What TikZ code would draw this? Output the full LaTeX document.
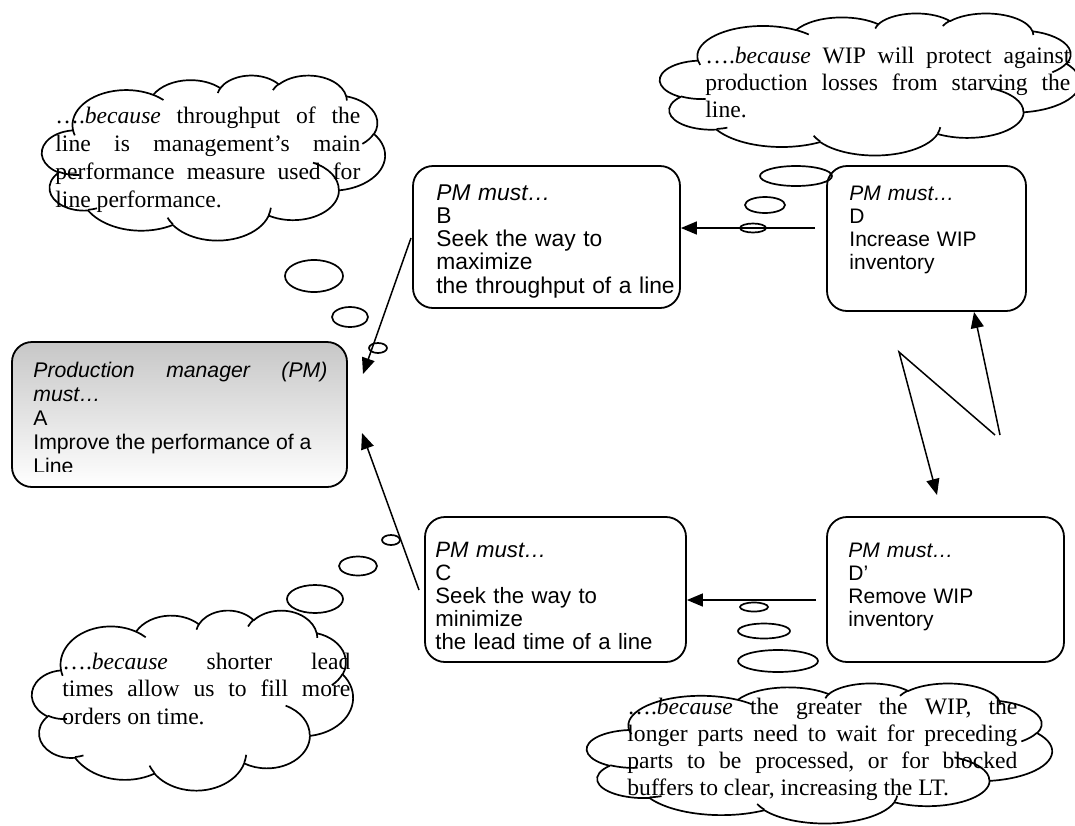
\documentclass[tikz,border=0pt]{standalone}
\usepackage{fontspec}
\setmainfont{Liberation Serif}
\setsansfont{Liberation Sans}
\usetikzlibrary{arrows.meta,fit}

% elliptic arc whose start and sweep are given as visual angles (ray from the centre)
\newcommand\visfix[3]{(mod(atan2((#1)*sin(#3),(#2)*cos(#3))-(#3)+900,360)-180)}
\newcommand\carc[4]{arc[x radius=#1,y radius=#2,start angle={#3+\visfix{#1}{#2}{#3}},end angle={#3+#4+\visfix{#1}{#2}{#3+#4}}]}

% cloud outline (with its inner folds) filling the box x,y,w,h
\newcommand\wordcloud[4]{%
  \begin{scope}[shift={(#1,#2)},xscale=#3/432,yscale=#4/432]
    \draw[cloudline] (39,143.70)
      \carc{67.53}{91.90}{-190.4875}{123.7805}
      \carc{53.33}{72.67}{-144.1024}{89.9452}
      \carc{43.65}{59.45}{-145.8079}{99.7230}
      \carc{48.57}{65.95}{-130.9861}{117.2417}
      \carc{53.33}{72.73}{-78.7089}{109.0269}
      \carc{67.75}{92.20}{-46.2673}{130.2690}
      \carc{57.85}{78.67}{0.6250}{114.0333}
      \carc{67.52}{92.15}{22.4516}{115.1726}
      \carc{77.20}{105.43}{66.2426}{75.7110}
      \carc{43.60}{59.18}{-274.9421}{146.7356}
      \carc{43.45}{59.45}{-246.8285}{152.5189}
      -- cycle;
    \draw[cloudline]
      (46.93,261.77) \carc{43.45}{59.45}{86.7420}{26.4295}
      (69.28,348.99) \carc{43.60}{59.18}{73.6105}{11.4475}
      (164.78,390.90) \carc{67.52}{92.15}{137.6242}{14.0811}
      (288.27,347.51) \carc{67.52}{92.15}{6.4533}{15.9984}
      (341.29,229.54) \carc{57.85}{78.67}{-70.2924}{70.9174}
      (417.98,153.54) \carc{53.33}{72.73}{30.3180}{27.7515}
      (383.24,54.26) \carc{48.57}{65.95}{-13.7443}{14.8589}
      (290.78,39.52) \carc{48.57}{65.95}{-149.1815}{18.1954}
      (221.41,47.20) \carc{43.65}{59.45}{-163.4943}{17.6864}
      (140.00,51.92) \carc{67.53}{91.90}{-66.7070}{12.3194}
      (41.27,157.89) \carc{67.53}{91.90}{157.6544}{11.8582};
  \end{scope}}

% a line spread over the full text width
\newcommand\jline[1]{\hbox to \hsize{\spaceskip=\fontdimen2\font plus 1fil\relax#1}}
% a block of lines, of width #1, hanging from its first baseline
\newcommand\linesblock[2]{\vtop{\hsize=#1\relax #2}}

\tikzset{
  boxframe/.style={draw, rectangle, line width=0.9pt, rounded corners=10pt, inner sep=0pt},
  cloudline/.style={line width=0.85pt, line join=round},
  bubble/.style={line width=0.85pt},
  arr/.style={line width=0.75pt, -{Triangle[length=8pt,width=6.5pt]}},
  boxtext/.style={anchor=base west, inner sep=0pt, text width=#1, align=left},
  cloudtext/.style={anchor=base west, inner sep=0pt},
  sanssmall/.style={font=\sffamily\fontsize{10.5pt}{11.6pt}\selectfont},
  serifcl/.style={font=\frenchspacing\fontsize{11.8pt}{#1}\selectfont},
}

\begin{document}
\begin{tikzpicture}[x=0.5pt,y=-0.5pt]
\useasboundingbox (0,0) rectangle (1075,825);

% ---- boxes ----
\node[boxframe, top color=black!22, bottom color=white, fit={(12,342) (347,487)}] (A) {};
\node[boxframe, fit={(413,166) (680,308)}] (B) {};
\node[boxframe, fit={(827,166) (1026,311)}] (D) {};
\node[boxframe, fit={(425,517) (686,662)}] (C) {};
\node[boxframe, fit={(827,517) (1064,662)}] (Dp) {};

\begin{scope}
  \clip (12,342) rectangle (347,471);
  \node[cloudtext, font=\sffamily\fontsize{10.6pt}{12pt}\selectfont] (tA) at (33,377)
    {\linesblock{147pt}{\jline{\itshape Production manager (PM)}\hbox{\itshape must…}\hbox{A}\hbox{Improve the performance of a}\hbox{Line}}};
\end{scope}
\begin{scope}
  \clip (413,166) rectangle (680,299);
  \node[boxtext=125pt, font=\sffamily\fontsize{11.4pt}{11.65pt}\selectfont] (tB) at (436,200)
    {\textit{PM must…}\\B\\Seek the way to\\maximize\\the throughput of a line};
\end{scope}
\node[boxtext=85pt, sanssmall] (tD) at (849,200)
  {\textit{PM must…}\\D\\Increase WIP\\inventory};
\begin{scope}
  \clip (425,517) rectangle (686,652);
  \node[boxtext=120pt, font=\sffamily\fontsize{11.1pt}{11.6pt}\selectfont] (tC) at (435,557)
    {\textit{PM must…}\\C\\Seek the way to\\minimize\\the lead time of a line};
\end{scope}
\node[boxtext=100pt, sanssmall] (tDp) at (848,557)
  {\textit{PM must…}\\D’\\Remove WIP\\inventory};

% ---- cloud texts ----
\node[cloudtext, serifcl=14pt] (t1) at (55,123)
  {\linesblock{152.5pt}{\jline{….\textit{because} throughput of the}\jline{line is management’s main}\jline{performance measure used for}\hbox{line performance.}}};
\node[cloudtext, serifcl=13.6pt] (t2) at (705,63)
  {\linesblock{182.5pt}{\jline{….\textit{because} WIP will protect against}\jline{production losses from starving the}\hbox{line.}}};
\node[cloudtext, serifcl=13.8pt] (t3) at (62,669)
  {\linesblock{144pt}{\jline{….\textit{because} shorter lead}\jline{times allow us to fill more}\hbox{orders on time.}}};
\node[cloudtext, serifcl=13.6pt] (t4) at (627,714)
  {\linesblock{195pt}{\jline{….\textit{because} the greater the WIP, the}\jline{longer parts need to wait for preceding}\jline{parts to be processed, or for blocked}\hbox{buffers to clear, increasing the LT.}}};

% ---- clouds ----
\wordcloud{42}{75}{343}{165}
\wordcloud{660}{13}{420}{142}
\wordcloud{32}{610}{321}{180}
\wordcloud{587}{683}{465}{140}

% ---- thought bubbles ----
\draw[bubble] (796,176) ellipse [x radius=36, y radius=10];
\draw[bubble] (765,205) ellipse [x radius=20, y radius=8];
\draw[bubble] (753,228) ellipse [x radius=13, y radius=4.5];
\draw[bubble] (314,276) ellipse [x radius=29, y radius=16];
\draw[bubble] (350,317) ellipse [x radius=18, y radius=10];
\draw[bubble] (378,348) ellipse [x radius=9, y radius=5];
\draw[bubble] (391,540) ellipse [x radius=9, y radius=5];
\draw[bubble] (358,566) ellipse [x radius=19, y radius=9.5];
\draw[bubble] (315,599) ellipse [x radius=28, y radius=14];
\draw[bubble] (754,607) ellipse [x radius=14, y radius=4.5];
\draw[bubble] (764,631) ellipse [x radius=26, y radius=7.5];
\draw[bubble] (778,661) ellipse [x radius=40, y radius=11];

% ---- arrows ----
\coordinate (bdS) at (815,228);
\draw[arr] (bdS) -- (bdS -| B.east);
\coordinate (cdS) at (816,600);
\draw[arr] (cdS) -- (cdS -| C.east);
\coordinate (baS) at (411,238);
\coordinate (baE) at (363,374);
\draw[arr] (baS) -- (baE);
\coordinate (caS) at (419,590);
\coordinate (caE) at (362,433);
\draw[arr] (caS) -- (caE);
\coordinate (nA) at (995,435);
\coordinate (nB) at (899,352);
\coordinate (nC) at (937,495);
\draw[arr] (nA) -- (nB) -- (nC);
\coordinate (uA) at (1000,435);
\coordinate (uB) at (974,312);
\draw[arr] (uA) -- (uB);
\end{tikzpicture}
\end{document}
